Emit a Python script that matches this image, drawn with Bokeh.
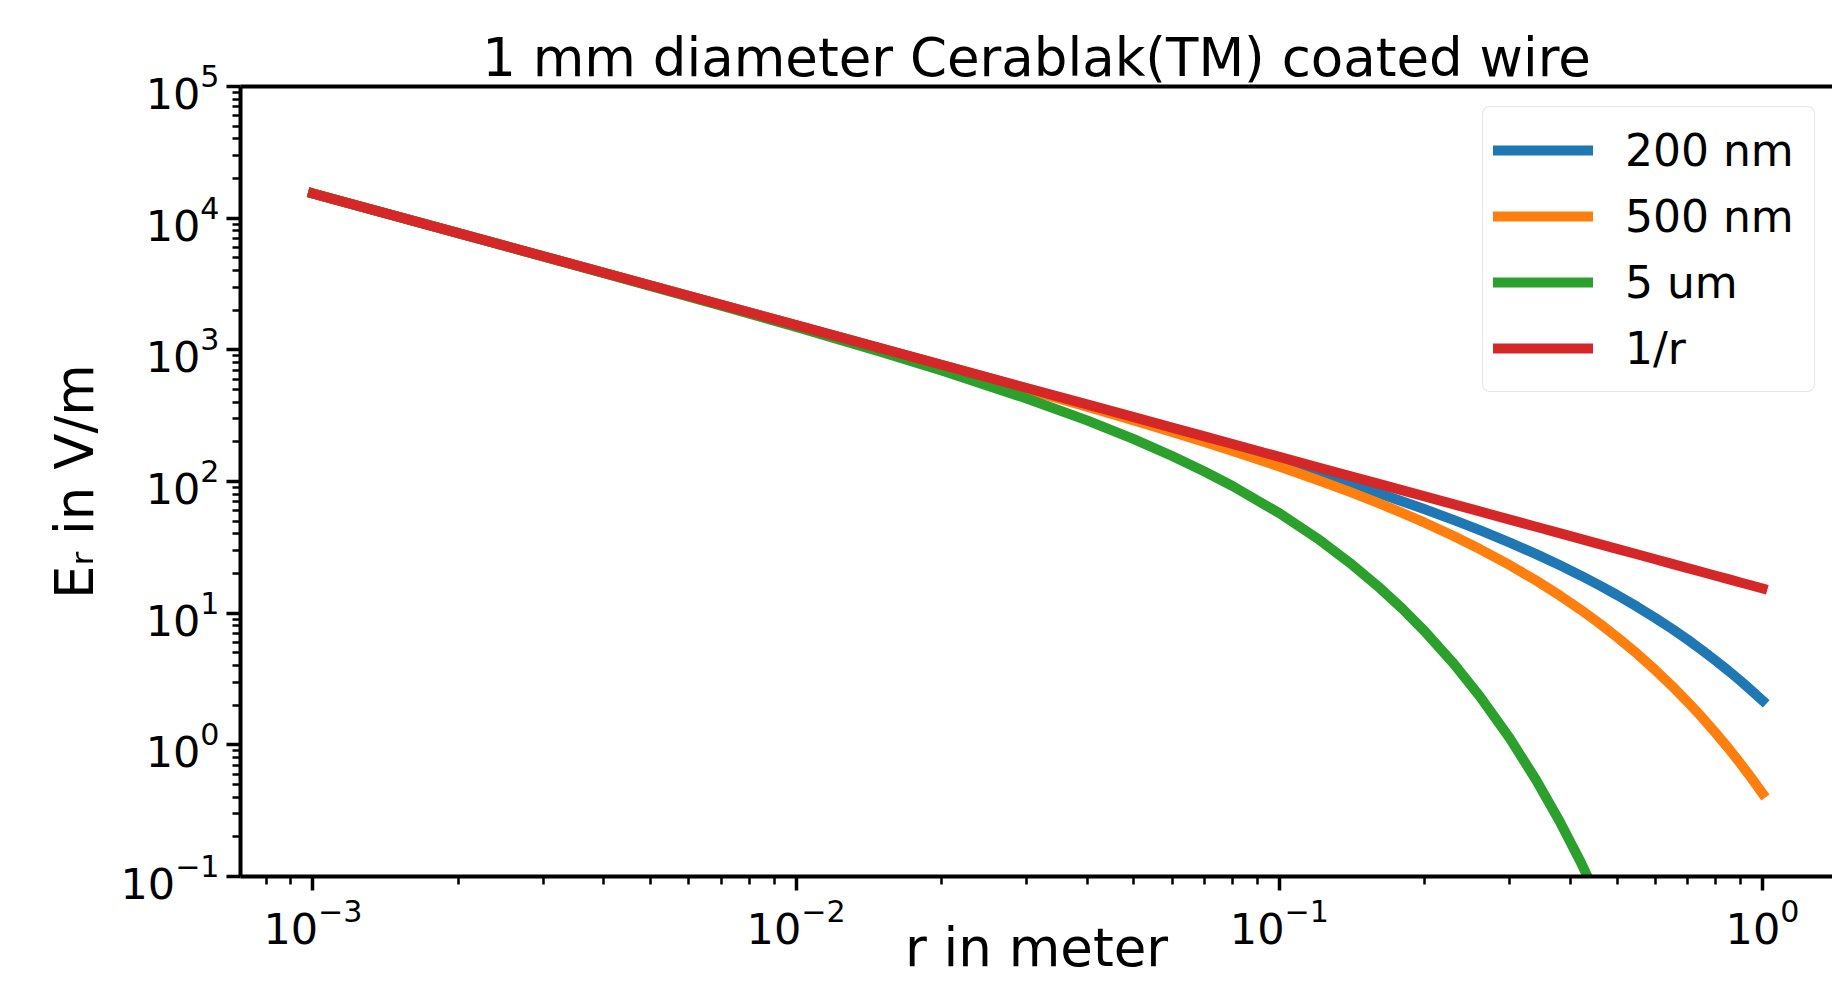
from bokeh.plotting import figure
from bokeh.models import FixedTicker, LogAxis, Legend, LegendItem, Range1d
from bokeh.embed import file_html
from bokeh.resources import INLINE

# ---- data ----
r = [0.001, 0.002, 0.004, 0.007, 0.01, 0.015, 0.02, 0.03, 0.04, 0.05, 0.06, 0.07,
     0.08, 0.1, 0.12, 0.14, 0.16, 0.18, 0.2, 0.23, 0.26, 0.3, 0.34, 0.38, 0.42,
     0.46, 0.5, 0.55, 0.6, 0.65, 0.7, 0.75, 0.8, 0.85, 0.9, 0.95, 1.0]

e_200nm = [15400, 7700, 3849, 2198, 1537.4, 1023.2, 765.7, 507.6, 378.2, 300.1,
           247.9, 210.4, 182.0, 142.3, 115.5, 96.38, 81.88, 70.58, 61.50, 50.85,
           42.67, 34.36, 28.08, 23.20, 19.36, 16.26, 13.74, 11.20, 9.199, 7.593,
           6.294, 5.231, 4.362, 3.653, 3.066, 2.576, 2.170]
e_500nm = [15400, 7698, 3847, 2195, 1534, 1018.5, 760.0, 500.4, 369.7, 290.4,
           237.4, 199.3, 170.5, 130.0, 102.8, 83.37, 68.82, 57.56, 48.65, 38.35,
           30.68, 23.13, 17.69, 13.67, 10.65, 8.340, 6.576, 4.922, 3.700, 2.795,
           2.119, 1.614, 1.231, 0.9424, 0.7226, 0.5554, 0.4275]
r_5um = r[:27]
e_5um = [15390, 7684, 3822, 2160, 1490, 963, 696.7, 427.0, 291.0, 209.6,
         156.3, 119.2, 92.4, 57.46, 36.85, 24.09, 16.0, 10.75, 7.273, 4.097,
         2.336, 1.1186, 0.5404, 0.2639, 0.1298, 0.06405, 0.03179]
e_inv_r = [15400, 7700, 3850, 2200, 1540, 1026.7, 770, 513.3, 385, 308,
           256.7, 220, 192.5, 154, 128.3, 110, 96.25, 85.56, 77, 66.96,
           59.23, 51.33, 45.29, 40.53, 36.67, 33.48, 30.8, 28, 25.67, 23.69,
           22, 20.53, 19.25, 18.12, 17.11, 16.21, 15.4]

series_labels = ["200 nm", "500 nm", "5 um", "1/r"]
colors = ["#1f77b4", "#ff7f0e", "#2ca02c", "#d62728"]

x_major = [1e-3, 1e-2, 1e-1, 1e0]
x_minor = [8e-4, 9e-4] + [k * 10.0 ** e for e in (-3, -2, -1) for k in range(2, 10)]
y_major = [1e-1, 1e0, 1e1, 1e2, 1e3, 1e4, 1e5]
y_minor = [k * 10.0 ** e for e in (-1, 0, 1, 2, 3, 4) for k in range(2, 10)]

TITLE = "1 mm diameter Cerablak(TM) coated wire"
X_LABEL = "r in meter"
Y_LABEL = "E\u1d63 in V/m"
FONT = "DejaVu Sans"

p = figure(width=1832, height=988, x_axis_type="log", y_axis_type="log",
           x_range=Range1d(7.08e-4, 1.396), y_range=Range1d(0.1, 1e5),
           output_backend="svg", toolbar_location=None,
           min_border_left=240, min_border_right=0, min_border_top=86,
           min_border_bottom=112, title=TITLE)

p.background_fill_color = "white"
p.border_fill_color = "white"
p.outline_line_color = None
p.grid.visible = False

p.title.text_font = FONT
p.title.text_font_size = "53px"
p.title.text_font_style = "normal"
p.title.align = "center"
p.title.standoff = -3
p.title.text_color = "black"

xax = p.below[0]
yax = p.left[0]
for ax, major, minor in ((xax, x_major, x_minor), (yax, y_major, y_minor)):
    ax.ticker = FixedTicker(ticks=major, minor_ticks=minor)
    ax.axis_line_width = 4
    ax.axis_line_color = "black"
    ax.major_tick_out = 14
    ax.major_tick_in = 0
    ax.major_tick_line_width = 3.5
    ax.minor_tick_out = 8
    ax.minor_tick_in = 0
    ax.minor_tick_line_width = 2.5
    ax.major_label_text_font = FONT
    ax.major_label_text_font_size = "43px"
    ax.major_label_text_color = "black"
    ax.axis_label_text_font = FONT
    ax.axis_label_text_font_size = "53px"
    ax.axis_label_text_font_style = "normal"
    ax.axis_label_text_color = "black"
xax.major_label_standoff = 8
yax.major_label_standoff = 7
xax.axis_label = X_LABEL
yax.axis_label = Y_LABEL
xax.axis_label_standoff = -30
yax.axis_label_standoff = 12

# top spine
top = LogAxis(ticker=FixedTicker(ticks=[]), axis_line_width=4, axis_line_color="black",
              major_tick_line_color=None, minor_tick_line_color=None)
p.add_layout(top, "above")

renderers = []
for xs, ys, c in ((r, e_200nm, colors[0]), (r, e_500nm, colors[1]),
                  (r_5um, e_5um, colors[2]), (r, e_inv_r, colors[3])):
    renderers.append(p.line(xs, ys, line_color=c, line_width=10,
                            line_cap="square", line_join="round"))

legend = Legend(items=[LegendItem(label=l, renderers=[rr]) for l, rr in zip(series_labels, renderers)],
                location=(1242, 484), margin=0, padding=10, spacing=0,
                glyph_width=100, glyph_height=66, label_height=66, label_width=179,
                label_standoff=32, label_text_font=FONT, label_text_font_size="44px",
                label_text_color="black",
                border_line_color="#cccccc", border_line_width=1.5,
                background_fill_color="white", background_fill_alpha=0.8,
                border_radius=8)
p.add_layout(legend)

open("out.html", "w").write(file_html(p, INLINE))
